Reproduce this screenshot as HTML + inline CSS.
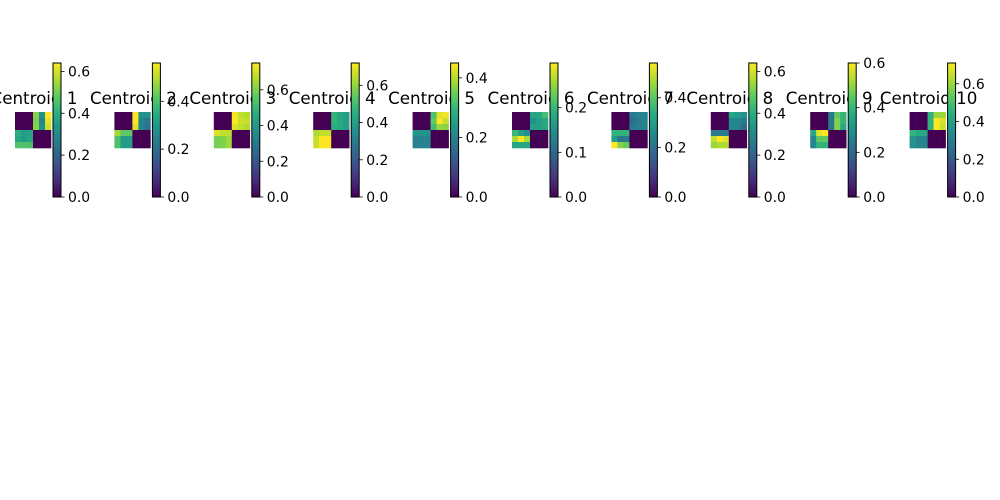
<!DOCTYPE html>
<html><head><meta charset="utf-8"><style>
html,body{margin:0;padding:0;background:#fff;}
svg{display:block;font-family:"DejaVu Sans","Liberation Sans",sans-serif;}
</style></head><body>
<svg id="fig" width="1000" height="500" viewBox="0 0 1000 500">
<defs>
<linearGradient id="vir" x1="0" y1="1" x2="0" y2="0">
<stop offset="0" stop-color="#440154"/><stop offset="0.125" stop-color="#472d7b"/><stop offset="0.25" stop-color="#3b528b"/><stop offset="0.375" stop-color="#2c728e"/><stop offset="0.5" stop-color="#21918c"/><stop offset="0.625" stop-color="#28ae80"/><stop offset="0.75" stop-color="#5ec962"/><stop offset="0.875" stop-color="#addc30"/><stop offset="1" stop-color="#fde725"/>
</linearGradient>
</defs>
</svg>
<script>
const titles = ["Centroid 1","Centroid 2","Centroid 3","Centroid 4","Centroid 5","Centroid 6","Centroid 7","Centroid 8","Centroid 9","Centroid 10"];
const vmaxes = [0.64,0.56,0.75,0.72,0.45,0.30,0.54,0.64,0.60,0.71];
const tickSets = [[0,0.2,0.4,0.6],[0,0.2,0.4],[0,0.2,0.4,0.6],[0,0.2,0.4,0.6],[0,0.2,0.4],[0,0.1,0.2],[0,0.2,0.4],[0,0.2,0.4,0.6],[0,0.2,0.4,0.6],[0,0.2,0.4,0.6]];
// top-right 3x3 blocks (rows 0-2, cols 3-5)
const topRight = [
 [[.52,.32,.64],[.51,.29,.61],[.52,.32,.59]],
 [[.56,.28,.28],[.56,.25,.22],[.53,.25,.21]],
 [[.74,.68,.66],[.75,.69,.68],[.71,.68,.66]],
 [[.47,.42,.40],[.47,.43,.40],[.45,.43,.40]],
 [[.32,.43,.44],[.34,.45,.41],[.31,.38,.37]],
 [[.18,.18,.21],[.15,.17,.18],[.17,.17,.18]],
 [[.22,.24,.24],[.19,.22,.24],[.22,.23,.24]],
 [[.38,.35,.32],[.29,.29,.26],[.29,.29,.22]],
 [[.24,.45,.39],[.24,.48,.39],[.24,.48,.36]],
 [[.46,.60,.60],[.46,.71,.67],[.46,.71,.65]]
];
// bottom-left 3x3 blocks (rows 3-5, cols 0-2)
const bottomLeft = [
 [[.40,.35,.37],[.38,.35,.38],[.46,.46,.45]],
 [[.48,.42,.42],[.40,.31,.31],[.40,.31,.31]],
 [[.71,.68,.68],[.59,.60,.64],[.59,.60,.64]],
 [[.63,.65,.65],[.66,.72,.72],[.66,.72,.72]],
 [[.23,.23,.23],[.20,.20,.20],[.20,.20,.20]],
 [[.20,.17,.15],[.26,.30,.26],[.18,.18,.18]],
 [[.35,.35,.35],[.30,.21,.22],[.54,.44,.41]],
 [[.26,.26,.26],[.58,.64,.61],[.54,.56,.56]],
 [[.36,.57,.60],[.27,.45,.45],[.27,.39,.39]],
 [[.46,.43,.43],[.36,.32,.32],[.36,.32,.32]]
];
const VIR=[[68,1,84],[71,45,123],[59,82,139],[44,114,142],[33,145,140],[40,174,128],[94,201,98],[173,220,48],[253,231,37]];
function viridis(t){t=Math.max(0,Math.min(1,t));const p=t*8,i=Math.min(7,Math.floor(p)),f=p-i;const a=VIR[i],b=VIR[i+1];return `rgb(${a.map((v,k)=>Math.round(v+(b[k]-v)*f)).join(',')})`;}
const NS="http://www.w3.org/2000/svg";
const svg=document.getElementById('fig');
function mk(tag,attrs,parent){const e=document.createElementNS(NS,tag);for(const k in attrs)e.setAttribute(k,attrs[k]);(parent||svg).appendChild(e);return e;}
const panelX0=15, panelStep=99.4, mapTop=112, cell=6, cbTop=63, cbBot=197, cbW=8;
titles.forEach((title,p)=>{
  const x0=panelX0+p*panelStep;
  const g=mk('g',{});
  
  
  const vmax=vmaxes[p];
  const full=[];
  for(let r=0;r<6;r++){full.push([]);for(let c=0;c<6;c++){let v=0;if(r<3&&c>=3)v=topRight[p][r][c-3];else if(r>=3&&c<3)v=bottomLeft[p][r-3][c];full[r].push(v);}}
  full.forEach((row,r)=>row.forEach((v,c)=>{
    const rc=mk('rect',{x:x0+c*cell,y:mapTop+r*cell,width:cell+0.3,height:cell+0.3,fill:viridis(v/vmax)},g);
    
    
  }));
  const t=mk('text',{x:x0+19,y:104,'text-anchor':'middle','font-size':'16.7px',fill:'#000'},g);
  t.textContent=title;
  
  
  const cbx=x0+38;
  const cb=mk('rect',{x:cbx,y:cbTop,width:cbW,height:cbBot-cbTop,fill:'url(#vir)',stroke:'#000','stroke-width':1},g);
  
  
  const yS=v=>cbBot-(v/vmax)*(cbBot-cbTop);
  tickSets[p].forEach(v=>{
    const y=yS(v);
    const tk=mk('line',{x1:cbx+cbW,x2:cbx+cbW+3.5,y1:y,y2:y,stroke:'#000','stroke-width':0.8},g);
    
    
    const lb=mk('text',{x:cbx+cbW+7,y:y+5,'font-size':'13.9px',fill:'#000'},g);
    lb.textContent=v.toFixed(1);
    
    
  });
});
</script>
</body></html>
